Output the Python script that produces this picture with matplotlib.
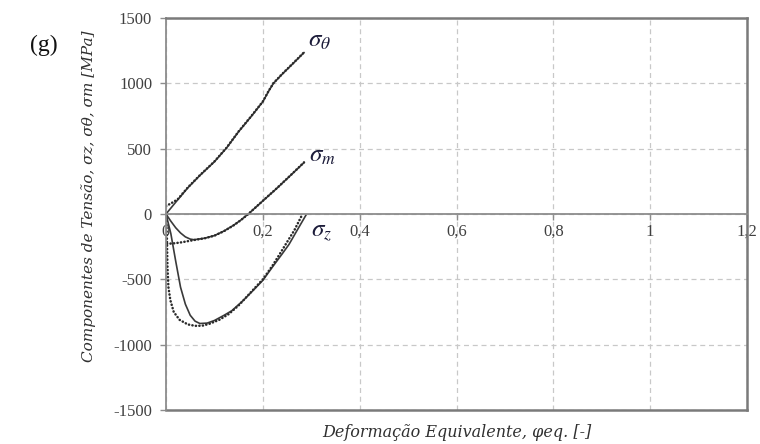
import matplotlib
matplotlib.use("Agg")
import matplotlib.pyplot as plt

# Stress components vs equivalent strain (solid = model, dotted = measured)
x_theta = [0, 0.02, 0.045, 0.07, 0.1, 0.125, 0.15, 0.175, 0.2, 0.212, 0.222, 0.24, 0.262, 0.285]
s_theta = [0, 90, 200, 295, 400, 505, 630, 742, 859, 940, 1000, 1070, 1150, 1235]
x_theta_d = [0, 0.012, 0.024, 0.045, 0.07, 0.1, 0.125, 0.15, 0.175, 0.2, 0.212, 0.222, 0.24, 0.262, 0.285]
s_theta_d = [60, 85, 112, 203, 297, 402, 507, 632, 744, 861, 942, 1002, 1072, 1152, 1237]

x_m = [0, 0.01, 0.02, 0.03, 0.04, 0.05, 0.058, 0.08, 0.1, 0.12, 0.14, 0.155, 0.17, 0.2, 0.23, 0.26, 0.285]
s_m = [0, -55, -105, -145, -175, -192, -197, -185, -165, -130, -85, -45, 0, 100, 200, 305, 393]
x_m_d = [0.002, 0.015, 0.03, 0.045, 0.06, 0.08, 0.1, 0.12, 0.14, 0.155, 0.17, 0.2, 0.23, 0.26, 0.285]
s_m_d = [-228, -225, -218, -208, -198, -186, -166, -131, -86, -46, 0, 101, 201, 306, 395]

x_z = [0, 0.01, 0.02, 0.03, 0.04, 0.05, 0.06, 0.07, 0.085, 0.1, 0.12, 0.136, 0.16, 0.18, 0.2,
       0.22, 0.24, 0.254, 0.27, 0.289]
s_z = [0, -150, -360, -560, -690, -775, -820, -838, -835, -815, -775, -740, -660, -585, -508,
       -405, -305, -233, -130, -9]
x_z_d = [0, 0.002, 0.003, 0.005, 0.009, 0.016, 0.028, 0.045, 0.06, 0.075, 0.09, 0.11, 0.13,
         0.15, 0.175, 0.2, 0.22, 0.236, 0.25, 0.265, 0.282]
s_z_d = [0, -200, -400, -560, -660, -750, -810, -845, -856, -855, -840, -810, -765,
         -700, -600, -500, -395, -300, -215, -125, 0]

x_ticks = [0, 0.2, 0.4, 0.6, 0.8, 1.0, 1.2]
x_tick_labels = ["0", "0,2", "0,4", "0,6", "0,8", "1", "1,2"]
y_ticks = [-1500, -1000, -500, 0, 500, 1000, 1500]

plt.rcParams["mathtext.fontset"] = "stix"
plt.rcParams["axes.unicode_minus"] = False
serif = ["Liberation Serif", "DejaVu Serif"]
label_font = ["DejaVu Serif"]

fig = plt.figure(figsize=(7.6, 4.44), dpi=100)
ax = fig.add_axes([166 / 760, 1 - 410 / 444, (747 - 166) / 760, (410 - 18) / 444])

axis_gray = "#8c8c8c"
grid_gray = "#c8c8c8"
line_dark = "#3a3a3a"
dot_dark = "#2a2a2a"
dot_style = dict(color=dot_dark, linewidth=1.8, linestyle=(0, (0.1, 1.3)),
                 dash_capstyle="round")

ax.set_xlim(0, 1.2)
ax.set_ylim(-1500, 1500)
ax.set_xticks(x_ticks)
ax.set_xticklabels(x_tick_labels)
ax.set_yticks(y_ticks)

ax.grid(True, color=grid_gray, linestyle=(0, (4, 3)), linewidth=0.9)
ax.set_axisbelow(True)

# horizontal axis crosses at zero; frame drawn around the plot area
ax.spines["bottom"].set_position(("data", 0))
ax.spines["bottom"].set_color(axis_gray)
ax.spines["bottom"].set_linewidth(1.3)
ax.spines["left"].set_color(axis_gray)
ax.spines["left"].set_linewidth(1.3)
for s in ("top", "right"):
    ax.spines[s].set_color("#7a7a7a")
    ax.spines[s].set_linewidth(1.8)
ax.axhline(-1500, color="#7a7a7a", linewidth=1.8, clip_on=False)

ax.tick_params(axis="both", direction="out", length=4, width=1, color=axis_gray,
               labelsize=12, labelcolor="#404040")
for lab in ax.get_xticklabels() + ax.get_yticklabels():
    lab.set_family(serif)
ax.tick_params(axis="x", pad=3)
ax.tick_params(axis="y", pad=6)

# curves
ax.plot(x_theta, s_theta, color=line_dark, linewidth=1.2)
ax.plot(x_theta_d, s_theta_d, **dot_style)
ax.plot(x_m, s_m, color=line_dark, linewidth=1.2)
ax.plot(x_m_d, s_m_d, **dot_style)
ax.plot(x_z, s_z, color=line_dark, linewidth=1.2)
ax.plot(x_z_d, s_z_d, **dot_style)

label_color = "#1c1c3a"
ax.text(0.293, 1330, r"$\sigma_\theta$", fontsize=18, color=label_color, va="center", ha="left")
ax.text(0.296, 450, r"$\sigma_m$", fontsize=18, color=label_color, va="center", ha="left")
ax.text(0.3, -140, r"$\sigma_z$", fontsize=18, color=label_color, va="center", ha="left")

ax.set_xlabel("Deformação Equivalente, φeq. [-]", family=label_font, style="italic",
              fontsize=11.5, color="#303030")
ax.xaxis.set_label_coords(0.5, -0.035, transform=ax.transAxes)
ax.set_ylabel("Componentes de Tensão, σz, σθ, σm [MPa]", family=label_font, style="italic",
              fontsize=11, color="#303030")
ax.yaxis.set_label_coords(-0.12, 0.545)

fig.text(30 / 760, 1 - 45 / 444, "(g)", family=serif, fontsize=17, color="#111111",
         ha="left", va="center")

fig.savefig("out.png", dpi=100)
